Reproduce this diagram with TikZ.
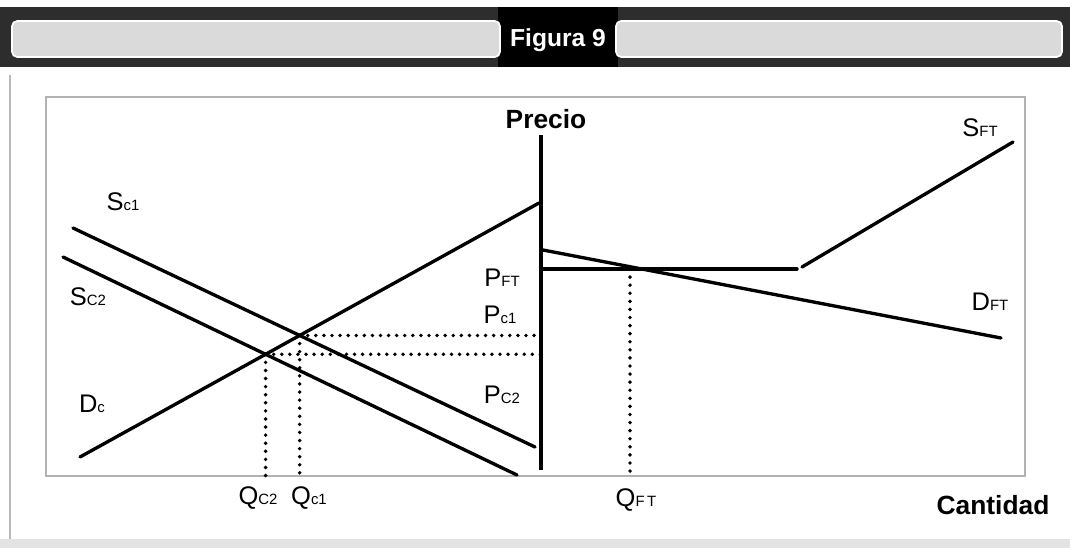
\documentclass[tikz,border=0pt]{standalone}
\usepackage{fontspec}
\setmainfont{Liberation Sans}
\usetikzlibrary{positioning}
\definecolor{bannercolor}{RGB}{45,45,45}
\definecolor{bandcolor}{RGB}{218,218,218}
\newcommand{\subtxt}[1]{{\fontsize{8.5pt}{9pt}\selectfont #1}}

\begin{document}
\begin{tikzpicture}[x=0.02cm, y=-0.02cm]
  \tikzset{
    market/.style={
      line width=1.9pt,
      line cap=round
    },
    axisline/.style={
      line width=2.4pt
    },
    guide/.style={
      line width=2.2pt,
      dash pattern=on 0pt off 4.6pt,
      line cap=round
    },
    frameline/.style={
      draw=gray!60,
      line width=0.7pt
    },
    lbl/.style={
      font=\fontsize{14.5pt}{16pt}\selectfont,
      inner sep=0pt
    },
    headtext/.style={
      font=\bfseries\fontsize{15pt}{17pt}\selectfont,
      inner sep=0pt
    }
  }
  \useasboundingbox (0,0) rectangle (1070,548);

  % Banner
  \fill[bannercolor] (0,7) rectangle (1070,67);
  \fill[black] (498,7) rectangle (618,67);
  \draw[white, fill=bandcolor, rounded corners=3pt, line width=1pt] (12,21) rectangle (500,57);
  \draw[white, fill=bandcolor, rounded corners=3pt, line width=1pt] (616,21) rectangle (1062,57);
  \node[headtext, text=white, font=\bfseries\fontsize{14pt}{16pt}\selectfont] (fig) at (558,40) {Figura 9};

  % Frame and scan edges
  \draw[frameline] (46,97) rectangle (1025,476);
  \draw[gray!55, line width=0.6pt] (10,75) -- (10,548);
  \fill[gray!22] (0,539) rectangle (1070,548);

  % Points of the left market
  \coordinate (base) at (0,476);
  \coordinate (sc1a) at (73,228);
  \coordinate (sc1b) at (535,447);
  \coordinate (sc2a) at (63,257);
  \coordinate (sc2b) at (517,475);
  \coordinate (dca) at (80,457);
  \coordinate (dcb) at (539,203);
  \coordinate (e1) at (intersection of sc1a--sc1b and dca--dcb);
  \coordinate (e2) at (intersection of sc2a--sc2b and dca--dcb);
  \coordinate (ptop) at (541,135);
  \coordinate (pbot) at (541,470);
  \coordinate (pc1) at (ptop |- e1);
  \coordinate (pc2) at (ptop |- e2);
  \coordinate (qc1) at (e1 |- base);
  \coordinate (qc2) at (e2 |- base);

  % Points of the right market
  \coordinate (dfta) at (543,250);
  \coordinate (dftb) at (1001,338);
  \coordinate (sfta) at (541,269);
  \coordinate (sftk) at (797,269);
  \coordinate (sftb) at (802,267);
  \coordinate (sftc) at (1013,142);
  \coordinate (qft) at (630,269);
  \coordinate (qftb) at (qft |- base);

  % Dotted guides
  \draw[guide] (e1) -- (pc1);
  \draw[guide] (e2) -- (pc2);
  \draw[guide] (e1) -- (qc1);
  \draw[guide] (e2) -- (qc2);
  \draw[guide] (qft) -- (qftb);

  % Curves
  \draw[market] (sc1a) -- (sc1b);
  \draw[market] (sc2a) -- (sc2b);
  \draw[market] (dca) -- (dcb);
  \draw[axisline] (ptop) -- (pbot);
  \draw[market] (dfta) -- (dftb);
  \draw[market] (sfta) -- (sftk);
  \draw[market] (sftb) -- (sftc);

  % Labels
  \node[headtext] (precio) at (546,119) {Precio};
  \node[headtext] (cantidad) at (993,505) {Cantidad};
  \node[lbl] (lsc1) at (123,202) {S\subtxt{c1}};
  \node[lbl] (lsc2) at (88,297) {S\subtxt{C2}};
  \node[lbl] (ldc) at (92,404) {D\subtxt{c}};
  \node[lbl] (lpft) at (502,278) {P\subtxt{FT}};
  \node[lbl] (lpc1) at (500,315) {P\subtxt{c1}};
  \node[lbl] (lpc2) at (502,395) {P\subtxt{C2}};
  \node[lbl] (lqc2) at (258,498) {Q\subtxt{C2}};
  \node[lbl] (lqc1) at (309,498) {Q\subtxt{c1}};
  \node[lbl] (lqft) at (636,500) {Q\subtxt{F\,T}};
  \node[lbl] (lsft) at (980,128) {S\subtxt{FT}};
  \node[lbl] (ldft) at (990,302) {D\subtxt{FT}};
\end{tikzpicture}
\end{document}
